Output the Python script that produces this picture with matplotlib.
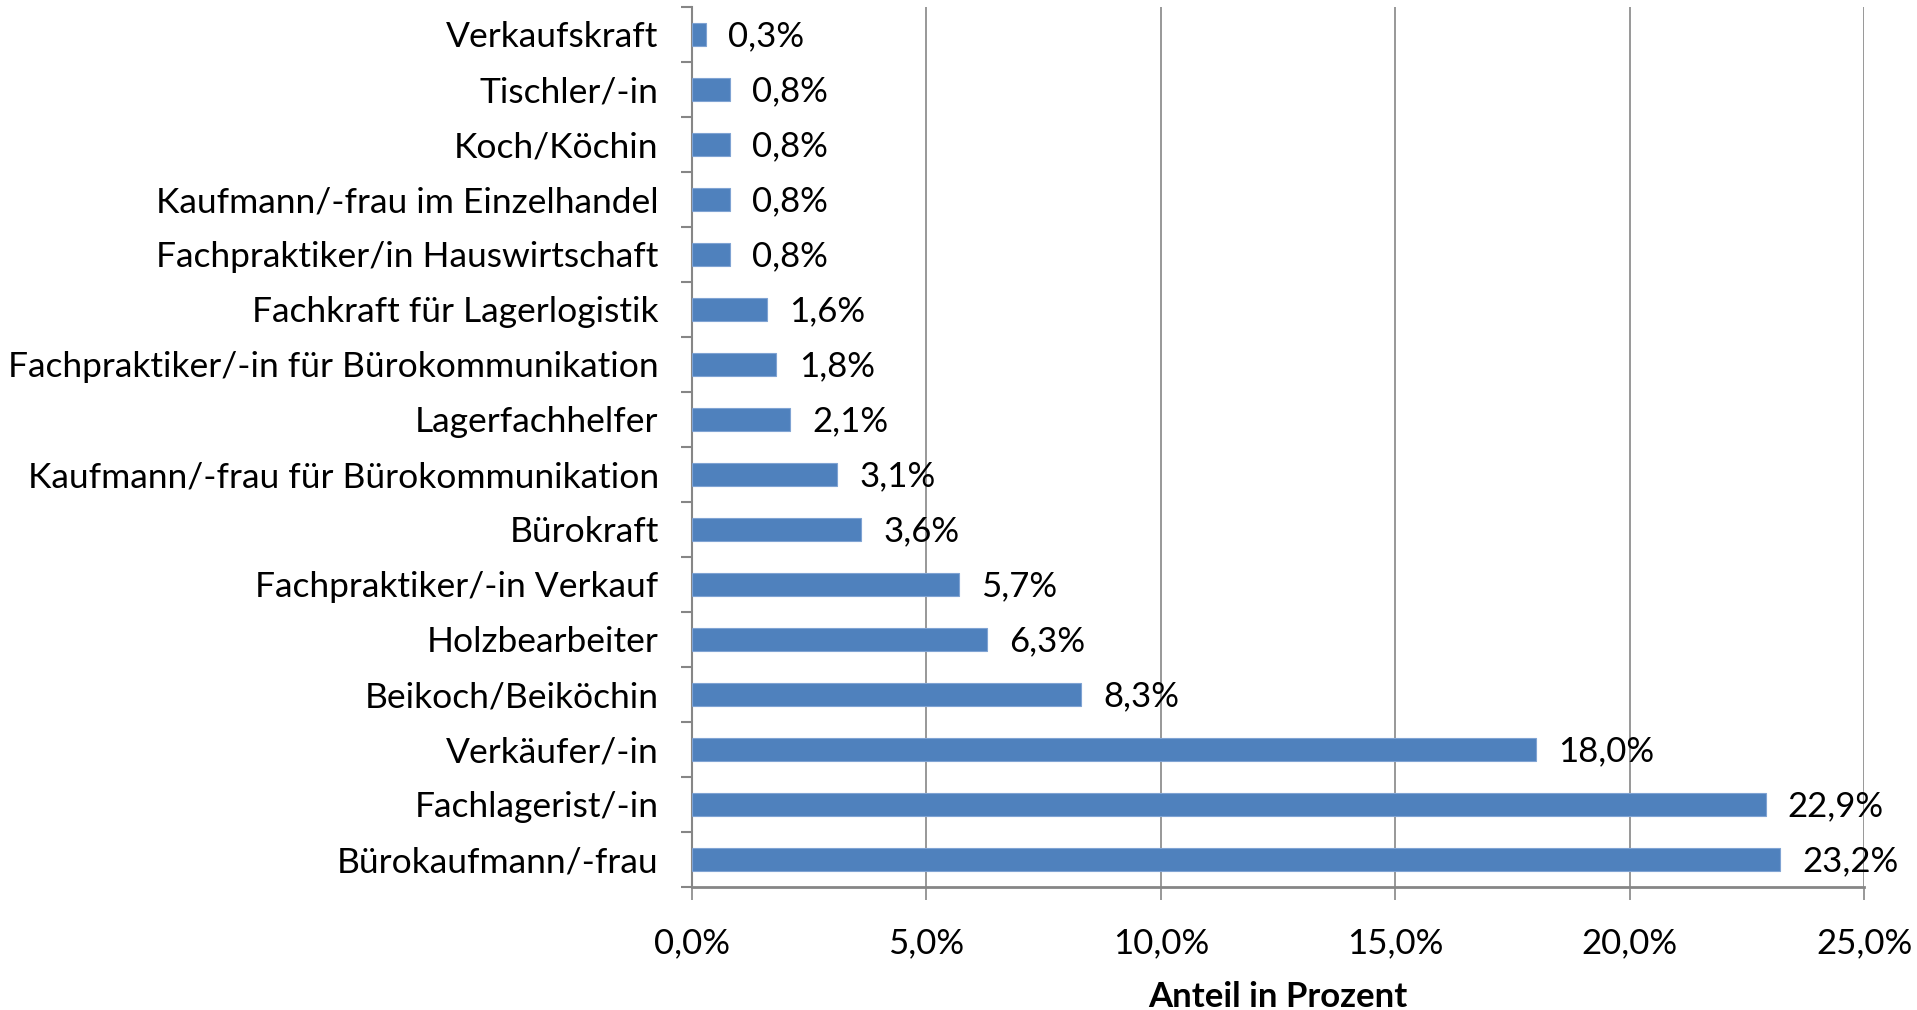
import matplotlib
matplotlib.use("Agg")
import matplotlib.pyplot as plt
from matplotlib.ticker import FuncFormatter, FixedLocator

categories = [
    "Verkaufskraft",
    "Tischler/-in",
    "Koch/Köchin",
    "Kaufmann/-frau im Einzelhandel",
    "Fachpraktiker/in Hauswirtschaft",
    "Fachkraft für Lagerlogistik",
    "Fachpraktiker/-in für Bürokommunikation",
    "Lagerfachhelfer",
    "Kaufmann/-frau für Bürokommunikation",
    "Bürokraft",
    "Fachpraktiker/-in Verkauf",
    "Holzbearbeiter",
    "Beikoch/Beiköchin",
    "Verkäufer/-in",
    "Fachlagerist/-in",
    "Bürokaufmann/-frau",
]
values = [0.3, 0.8, 0.8, 0.8, 0.8, 1.6, 1.8, 2.1, 3.1, 3.6, 5.7, 6.3, 8.3, 18.0, 22.9, 23.2]
xticks = [0, 5, 10, 15, 20, 25]
xlabel = "Anteil in Prozent"

plt.rcParams['font.family'] = ['Lato', 'DejaVu Sans']

FS = 25

fig = plt.figure(figsize=(19.17, 10.10), dpi=100)
ax = fig.add_axes([0.361, 0.1218, 0.6114, 0.8713])

ypos = list(range(len(categories)))
ax.barh(ypos, values, height=0.41, color="#4F81BD", edgecolor="#7FA3D3", linewidth=0.8, zorder=3)
ax.set_ylim(len(categories) - 0.5, -0.5)
ax.set_xlim(0, 25)

ax.set_yticks(ypos)
ax.set_yticklabels(categories, fontsize=25.5, color="#000000")
ax.yaxis.set_minor_locator(FixedLocator([i - 0.5 for i in range(len(categories) + 1)]))
ax.tick_params(axis='y', which='major', length=0, pad=24)
ax.tick_params(axis='y', which='minor', length=8, width=1.5, color="#868686", direction='out')

ax.xaxis.set_major_locator(FixedLocator(xticks))
ax.xaxis.set_major_formatter(FuncFormatter(lambda v, p: f"{v:.1f}%".replace('.', ',')))
ax.tick_params(axis='x', which='major', length=9, width=1.2, color="#868686", labelsize=FS, pad=20)

ax.grid(axis='x', color="#868686", linewidth=1.2, zorder=0)
ax.spines['top'].set_visible(False)
ax.spines['right'].set_visible(False)
ax.spines['left'].set_color("#868686")
ax.spines['left'].set_linewidth(1.5)
ax.spines['bottom'].set_color("#868686")
ax.spines['bottom'].set_linewidth(2.0)

for y, v in zip(ypos, values):
    ax.annotate(f"{v:.1f}%".replace('.', ','), xy=(v, y), xytext=(16, -1),
                textcoords='offset points', va='center', ha='left', fontsize=FS, color="#000000")

ax.set_xlabel(xlabel, fontsize=FS, fontweight='bold', labelpad=16)

fig.savefig("out.png", dpi=100)
